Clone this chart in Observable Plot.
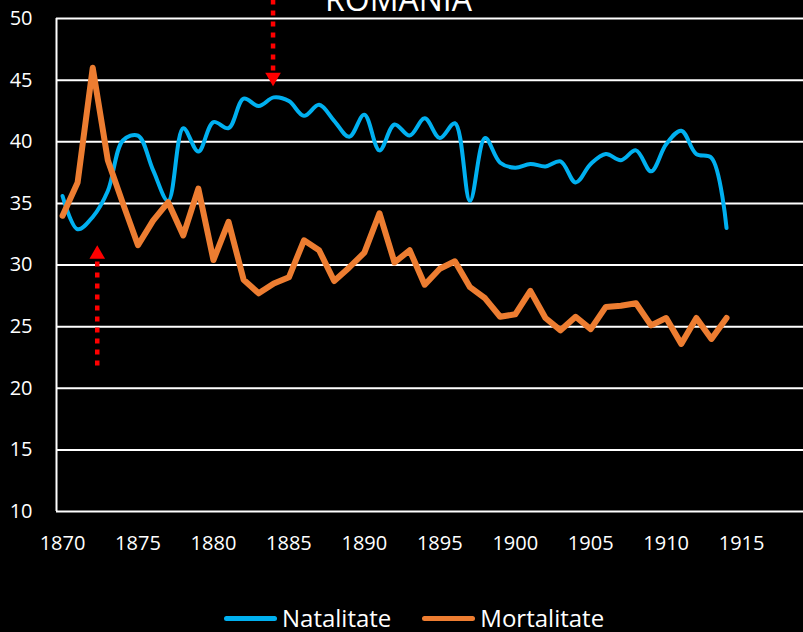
<!DOCTYPE html>
<html><head><meta charset="utf-8">
<script src="https://cdn.jsdelivr.net/npm/d3@7"></script>
<script src="https://cdn.jsdelivr.net/npm/@observablehq/plot@0.6"></script>
<style>
html,body{margin:0;padding:0;background:#000;overflow:hidden;width:803px;height:632px;}
#wrap{position:relative;width:803px;height:632px;font-family:"Open Sans",sans-serif;color:#fff;overflow:hidden;}
#title{position:absolute;top:-17px;left:-3px;width:803px;text-align:center;font-size:32px;line-height:32px;white-space:nowrap;}
#chart{position:absolute;top:0;left:0;}
#legend{position:absolute;top:605px;left:224px;display:flex;align-items:center;font-size:24px;line-height:26px;white-space:nowrap;}
.sw{display:inline-block;width:53px;height:5px;border-radius:3px;margin-right:5px;}
.item{display:flex;align-items:center;}
</style></head>
<body><div id="wrap"><div id="chart"></div><div id="title">ROMANIA</div><div id="legend"></div></div>
<script>
const years = [1870,1871,1872,1873,1874,1875,1876,1877,1878,1879,
  1880,1881,1882,1883,1884,1885,1886,1887,1888,1889,
  1890,1891,1892,1893,1894,1895,1896,1897,1898,1899,
  1900,1901,1902,1903,1904,1905,1906,1907,1908,1909,
  1910,1911,1912,1913,1914];
const natalitate = [35.6,32.9,33.9,36.0,40.1,40.5,37.7,35.2,41.1,39.2,
  41.6,41.1,43.5,42.9,43.6,43.3,42.1,43.0,41.7,40.4,
  42.2,39.3,41.4,40.5,41.9,40.3,41.5,35.2,40.3,38.3,
  37.9,38.2,38.0,38.4,36.7,38.2,39.0,38.5,39.3,37.6,
  39.8,40.9,39.0,38.7,33.0];
const mortalitate = [34.0,36.7,46.0,38.5,35.0,31.6,33.6,35.1,32.4,36.2,
  30.4,33.5,28.8,27.7,28.5,29.0,32.0,31.2,28.7,29.8,
  31.0,34.2,30.2,31.2,28.4,29.7,30.3,28.2,27.3,25.8,
  26.0,27.9,25.7,24.7,25.8,24.8,26.6,26.7,26.9,25.1,
  25.7,23.6,25.7,24.0,25.7];
const seriesNames = ["Natalitate","Mortalitate"];
const seriesColors = ["#00B0F0","#ED7D31"];
const xTicks = [1870,1875,1880,1885,1890,1895,1900,1905,1910,1915];
const yTicks = [10,15,20,25,30,35,40,45,50];
const xDomain = [1869.6,1919.1];
const yDomain = [10,50];
// annotation arrows (year, start value, end value of dotted shaft, tip value, direction)
const arrowYears = [1872.3,1883.95];
const arrowFrom = [21.8,51.5];
const arrowTo = [30.5,45.6];
const arrowTip = [31.6,44.5];
const arrowUp = [true,false];

const natRows = years.map((y,i)=>({year:y, v:natalitate[i]}));
const morRows = years.map((y,i)=>({year:y, v:mortalitate[i]}));
const arrows = arrowYears.map((y,i)=>({year:y, from:arrowFrom[i], to:arrowTo[i], tip:arrowTip[i], up:arrowUp[i]}));

const chart = Plot.plot({
  width:803, height:570,
  marginTop:18, marginBottom:59, marginLeft:56, marginRight:0,
  style:{background:"#000", color:"#fff", fontFamily:"'Open Sans',sans-serif", fontSize:"20px", overflow:"visible"},
  x:{domain:xDomain, type:"linear"},
  y:{domain:yDomain},
  marks:[
    Plot.ruleY(yTicks,{stroke:"#fff", strokeWidth:2}),
    Plot.ruleX([xDomain[0]],{y1:yDomain[0], y2:yDomain[1], stroke:"#fff", strokeWidth:2}),
    Plot.axisX({ticks:xTicks, tickSize:0, tickPadding:24, tickFormat:d=>String(d), fontSize:20, label:null}),
    Plot.axisY({ticks:yTicks, tickSize:0, tickPadding:24, tickFormat:d=>String(d), fontSize:20, label:null}),
    Plot.line(natRows,{x:"year", y:"v", stroke:seriesColors[0], strokeWidth:4, curve:"catmull-rom"}),
    Plot.line(morRows,{x:"year", y:"v", stroke:seriesColors[1], strokeWidth:6, strokeLinejoin:"round", strokeLinecap:"round"}),
    Plot.ruleX(arrows,{x:"year", y1:"from", y2:"to", stroke:"#ff0000", strokeWidth:4.5, strokeDasharray:"5,6"}),
    Plot.dot(arrows.filter(d=>d.up),{x:"year", y:"tip", symbol:"triangle", r:5.8, fill:"#ff0000", stroke:"none", dy:9}),
    Plot.dot(arrows.filter(d=>!d.up),{x:"year", y:"tip", symbol:"triangle", r:5.8, fill:"#ff0000", stroke:"none", rotate:180, dy:-9})
  ]
});
document.getElementById("chart").appendChild(chart);

const legend = document.getElementById("legend");
seriesNames.forEach((n,i)=>{
  const it = document.createElement("div");
  it.className="item";
  if(i>0) it.style.marginLeft="31px";
  const sw = document.createElement("span");
  sw.className="sw"; sw.style.background=seriesColors[i];
  const t = document.createElement("span");
  t.textContent=n;
  it.appendChild(sw); it.appendChild(t);
  legend.appendChild(it);
});
</script>
</body></html>
